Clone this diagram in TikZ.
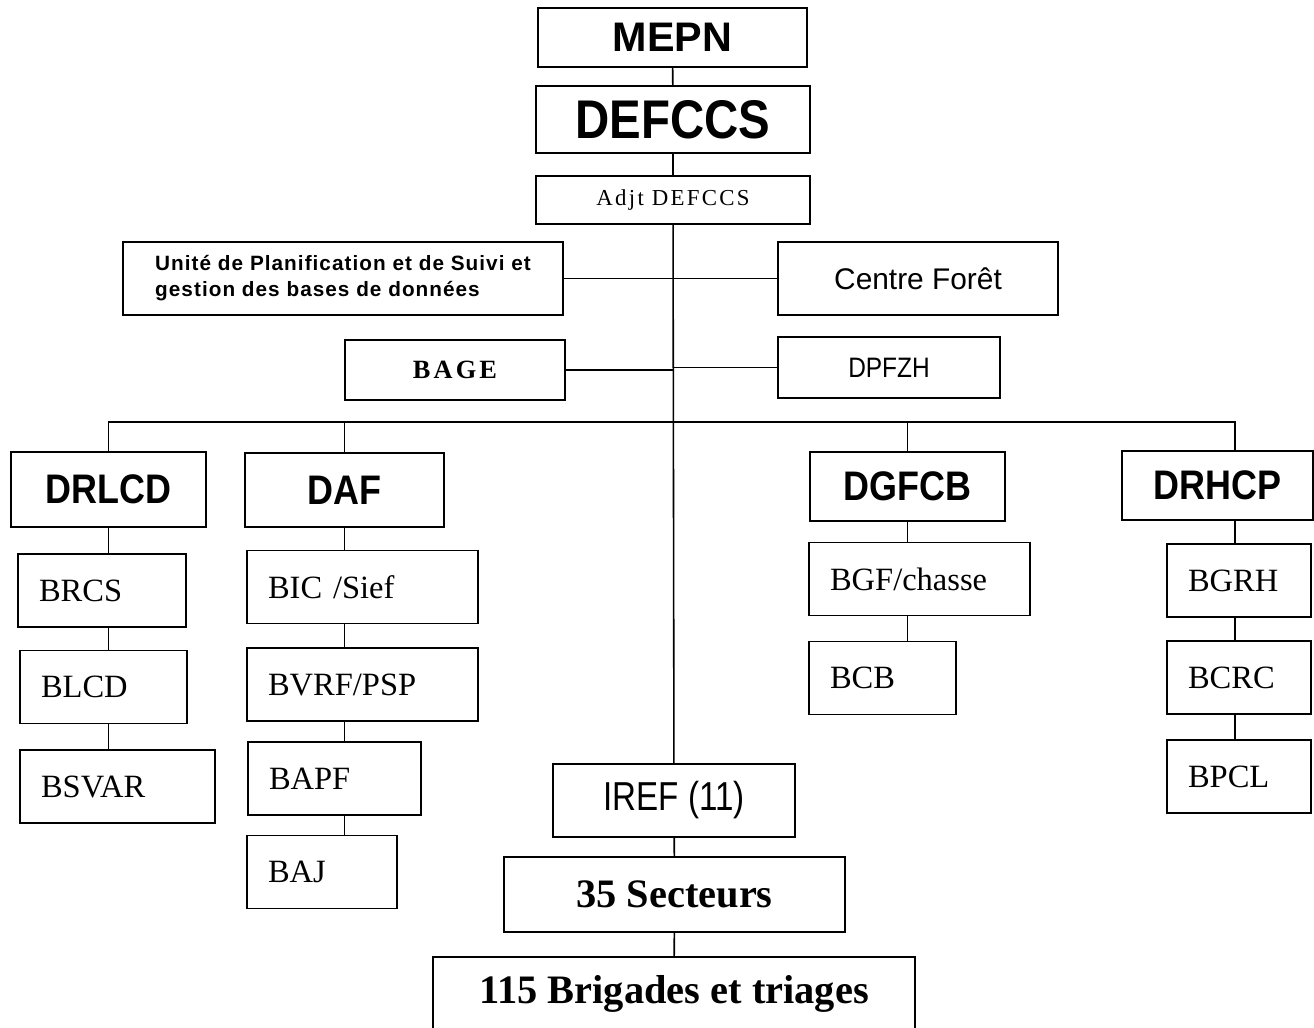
\documentclass[tikz,border=0pt]{standalone}
\usepackage{fontspec}
\setmainfont{Liberation Serif}
\setsansfont{Liberation Sans}
\newfontfamily\narrowsans[FakeStretch=0.82]{Liberation Sans}
\newfontfamily\headsans[FakeStretch=0.87]{Liberation Sans}
\usetikzlibrary{positioning,calc}
\tikzset{
  orgbox/.style={
    rectangle, draw=black, line width=1pt, fill=white,
    inner sep=0pt, align=center
  },
  topbox/.style={
    orgbox, font=\sffamily\bfseries\fontsize{23.5}{26}\selectfont
  },
  headbox/.style={
    orgbox, font=\headsans\bfseries\fontsize{23.5}{26}\selectfont
  },
  subbox/.style={
    orgbox, minimum height=1.46cm, inner xsep=0.42cm,
    text width=#1, align=left,
    font=\fontsize{18.5}{21}\selectfont
  },
  bigserif/.style={
    orgbox, font=\bfseries\fontsize{23}{26}\selectfont
  },
  link/.style={line width=0.9pt},
}

\begin{document}
\begin{tikzpicture}[x=0.02cm, y=-0.02cm]
  \useasboundingbox (0,0) rectangle (1314,1027);
  \clip (0,0) rectangle (1314,1027);

  % Top — ministry and direction
  \node[topbox, minimum width=5.38cm, minimum height=1.18cm] (mepn) at (672.5,37.5) {MEPN};
  \node[orgbox, font=\headsans\bfseries\fontsize{31}{34}\selectfont,
        minimum width=5.48cm, minimum height=1.34cm] (defccs) at (673,119.5) {DEFCCS};
  \node[orgbox, font=\fontsize{13}{15}\selectfont\addfontfeature{LetterSpace=10},
        minimum width=5.48cm, minimum height=0.96cm] (adjt) at (673,200) {Adjt DEFCCS};

  % Attached units
  \node[orgbox, font=\sffamily\bfseries\fontsize{11.8}{14.7}\selectfont\addfontfeature{LetterSpace=5},
        align=left, minimum width=8.8cm, minimum height=1.46cm] (unite) at (343,278.5)
    {Unité de Planification et de Suivi et\\gestion des bases de données};
  \node[orgbox, font=\sffamily\fontsize{17}{20}\selectfont,
        minimum width=5.6cm, minimum height=1.46cm] (centre) at (918,278.5) {Centre Forêt};
  \node[orgbox, font=\bfseries\fontsize{15}{17}\selectfont\addfontfeature{LetterSpace=12},
        minimum width=4.4cm, minimum height=1.2cm] (bage) at (455,370) {BAGE};
  \node[orgbox, font=\headsans\fontsize{16}{19}\selectfont,
        minimum width=4.44cm, minimum height=1.22cm] (dpfzh) at (889,367.5) {DPFZH};

  % Directions
  \node[headbox, minimum width=3.9cm,  minimum height=1.5cm]  (drlcd) at (108.5,489.5) {DRLCD};
  \node[headbox, minimum width=3.98cm, minimum height=1.48cm] (daf)   at (344.5,490)   {DAF};
  \node[headbox, minimum width=3.9cm,  minimum height=1.38cm] (dgfcb) at (907.5,486.5) {DGFCB};
  \node[headbox, minimum width=3.82cm, minimum height=1.38cm] (drhcp) at (1217.5,485.5) {DRHCP};

  % Bureaus
  \node[subbox=2.52cm] (brcs)  at (102,590.5)   {BRCS};
  \node[subbox=2.50cm] (blcd)  at (103.5,687)   {BLCD};
  \node[subbox=3.06cm] (bsvar) at (117.5,786.5) {BSVAR};
  \node[subbox=3.78cm] (bic)   at (362.5,587)   {BIC /Sief};
  \node[subbox=3.78cm] (bvrf)  at (362.5,684.5) {BVRF/PSP};
  \node[subbox=2.62cm] (bapf)  at (334.5,778.5) {BAPF};
  \node[subbox=2.16cm] (baj)   at (322,872)     {BAJ};
  \node[subbox=3.58cm] (bgf)   at (919.5,579)   {BGF/chasse};
  \node[subbox=2.10cm] (bcb)   at (882.5,678)   {BCB};
  \node[subbox=2.04cm] (bgrh)  at (1239,580.5)  {BGRH};
  \node[subbox=2.04cm] (bcrc)  at (1239,677.5)  {BCRC};
  \node[subbox=2.04cm] (bpcl)  at (1239,776.5)  {BPCL};

  % Field services
  \node[orgbox, font=\narrowsans\fontsize{23}{26}\selectfont,
        minimum width=4.84cm, minimum height=1.46cm] (iref) at (674,800.5) {IREF (11)};
  \node[bigserif, minimum width=6.82cm, minimum height=1.5cm] (secteurs) at (674.5,894.5) {35 Secteurs};
  \node[bigserif, minimum width=9.64cm, minimum height=1.48cm] (brigades) at (674,994) {115 Brigades et triages};

  % Trunk
  \draw[link] (mepn) -- (defccs);
  \draw[link] (defccs) -- (adjt);
  \draw[link] (adjt) -- (iref);
  \draw[link] (iref) -- (secteurs);
  \draw[link] (secteurs) -- (brigades);

  % Side branches
  \draw[link] (unite.east)  -- (unite.east -| adjt.south);
  \draw[link] (centre.west) -- (centre.west -| adjt.south);
  \draw[link] (bage.east)   -- (bage.east -| adjt.south);
  \draw[link] (dpfzh.west)  -- (dpfzh.west -| adjt.south);

  % Bus to the directions
  \coordinate (bus) at (673,422);
  \coordinate (rcol) at ([xshift=0.35cm]drhcp.south);
  \draw[link] (drlcd.north) |- (bus);
  \draw[link] ([xshift=0.35cm]drhcp.north) |- (bus);
  \draw[link] (daf.north)   -- (daf.north |- bus);
  \draw[link] (dgfcb.north) -- (dgfcb.north |- bus);

  % Columns
  \draw[link] (drlcd.south) -- (drlcd.south |- brcs.north);
  \draw[link] (brcs.south -| drlcd.south) -- (blcd.north -| drlcd.south);
  \draw[link] (blcd.south -| drlcd.south) -- (bsvar.north -| drlcd.south);
  \draw[link] (daf.south) -- (daf.south |- bic.north);
  \draw[link] (bic.south -| daf.south)  -- (bvrf.north -| daf.south);
  \draw[link] (bvrf.south -| daf.south) -- (bapf.north -| daf.south);
  \draw[link] (bapf.south -| daf.south) -- (baj.north -| daf.south);
  \draw[link] (dgfcb.south) -- (dgfcb.south |- bgf.north);
  \draw[link] (bgf.south -| dgfcb.south) -- (bcb.north -| dgfcb.south);
  \draw[link] (rcol) -- (rcol |- bgrh.north);
  \draw[link] (bgrh.south -| rcol) -- (bcrc.north -| rcol);
  \draw[link] (bcrc.south -| rcol) -- (bpcl.north -| rcol);
\end{tikzpicture}
\end{document}
